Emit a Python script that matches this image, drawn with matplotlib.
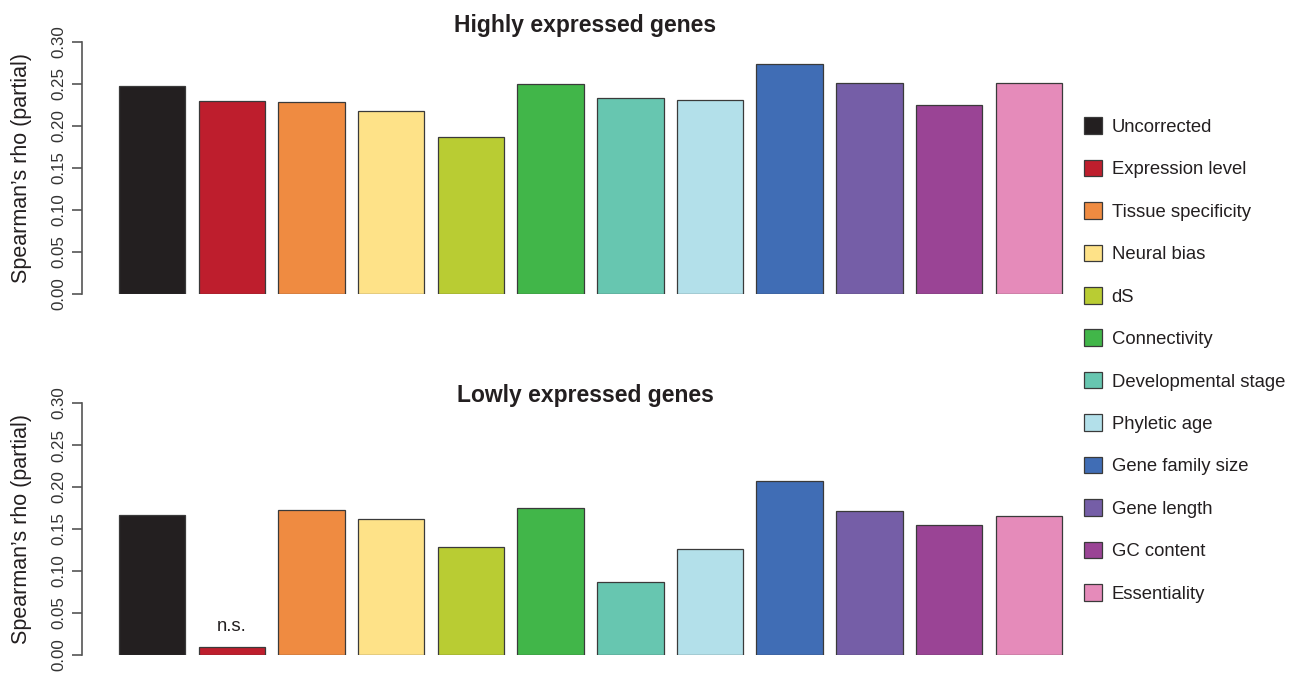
import matplotlib
matplotlib.use("Agg")
import matplotlib.pyplot as plt
from matplotlib.patches import Patch
import numpy as np

plt.rcParams["font.family"] = ["Liberation Sans", "DejaVu Sans"]

# data
categories = ["Uncorrected", "Expression level", "Tissue specificity", "Neural bias",
              "dS", "Connectivity", "Developmental stage", "Phyletic age",
              "Gene family size", "Gene length", "GC content", "Essentiality"]
colors = ["#231F20", "#BE1E2D", "#EF8B41", "#FEE288", "#B9CC33", "#41B649",
          "#67C6B0", "#B3E0EA", "#406DB5", "#755EA7", "#9A4495", "#E58BBA"]
high_rho = [0.248, 0.230, 0.229, 0.218, 0.187, 0.250,
            0.233, 0.231, 0.274, 0.251, 0.225, 0.251]
low_rho = [0.167, 0.010, 0.173, 0.162, 0.128, 0.175,
           0.087, 0.126, 0.207, 0.171, 0.155, 0.166]
yticks = [0.00, 0.05, 0.10, 0.15, 0.20, 0.25, 0.30]

W, H = 1299, 673
fig = plt.figure(figsize=(W / 100, H / 100), dpi=100)

# R barplot style positions: width 1, space 0.2
x = 0.2 + np.arange(len(categories)) * 1.2 + 0.5

txt = "#231F20"
axcol = "#555555"


def panel(bottom_px, values, title, title_y):
    ax = fig.add_axes([82 / W, (H - bottom_px) / H, 986.6 / W, 252 / H])
    ax.bar(x, values, width=1.0, color=colors, edgecolor="#3a3a3a", linewidth=0.9)
    ax.set_xlim(-0.357, 14.5)
    ax.set_ylim(0, 0.30)
    for s in ["top", "right", "bottom"]:
        ax.spines[s].set_visible(False)
    ax.spines["left"].set_color(axcol)
    ax.spines["left"].set_linewidth(1.2)
    ax.set_xticks([])
    ax.set_yticks(yticks)
    ax.set_yticklabels([f"{v:.2f}" for v in yticks], rotation=90, va="center",
                       fontsize=12.2, color="#333333")
    ax.tick_params(axis="y", length=7, width=1.2, color=axcol, pad=4)
    ax.set_ylabel("Spearman\u2019s rho (partial)", fontsize=15.5, color=txt)
    ax.yaxis.set_label_coords(-0.0507, 0.5)
    fig.text(585 / W, 1 - title_y / H, title, ha="center", va="baseline",
             fontsize=16.5, fontweight="bold", color=txt)
    return ax


ax1 = panel(294, high_rho, "Highly expressed genes", 32)
ax2 = panel(655, low_rho, "Lowly expressed genes", 402)

# n.s. label above the non-significant bar
ax2.annotate("n.s.", (x[1], low_rho[1]), xytext=(0, 8), textcoords="offset points",
             ha="center", va="bottom", fontsize=13.3, color=txt)

handles = [Patch(facecolor=c, edgecolor="#3a3a3a", linewidth=0.9) for c in colors]
fig.legend(handles, categories, loc="center left",
           bbox_to_anchor=(1084 / W, 1 - 360 / H), frameon=False,
           fontsize=13.3, labelspacing=1.29, handlelength=1.0, handleheight=1.0,
           handletextpad=0.5, borderpad=0, borderaxespad=0, labelcolor=txt)

fig.savefig("out.png", dpi=100)
